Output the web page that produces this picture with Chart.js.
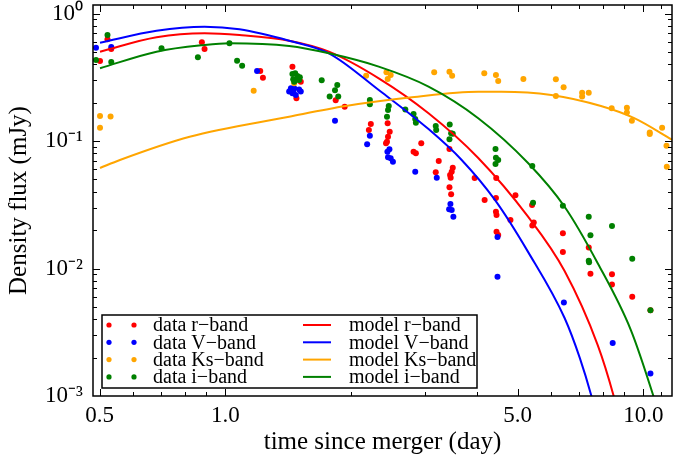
<!DOCTYPE html>
<html><head><meta charset="utf-8">
<script src="https://cdn.jsdelivr.net/npm/chart.js@4/dist/chart.umd.min.js"></script>
<style>html,body{margin:0;padding:0;background:#fff}#wrap{width:675px;height:463px}</style>
</head><body><div id="wrap"><canvas id="c" width="675" height="463"></canvas></div>
<script>
// ---------- data ----------
const rDataT = [0.501,0.522,0.533,0.878,0.891,1.211,1.229,1.446,1.514,1.478,1.835,1.928,2.443,2.227,2.203,2.471,2.448,2.434,2.421,2.940,2.818,2.854,3.434,3.237,3.184,3.497,3.477,3.446,3.457,3.434,3.466,3.945,4.443,4.168,4.436,4.436,4.450,4.450,4.492,4.939,4.805,5.413,5.464,5.420,6.414,6.414,7.396,7.466,8.406,8.406,9.399,10.39];
const rDataF = [0.424,0.627,0.527,0.594,0.527,0.354,0.314,0.383,0.292,0.216,0.209,0.186,0.138,0.136,0.122,0.118,0.108,0.0988,0.0959,0.0959,0.0824,0.0801,0.0866,0.0697,0.0568,0.0617,0.0574,0.0541,0.0516,0.0434,0.0382,0.0513,0.0513,0.0345,0.0357,0.0279,0.0263,0.0194,0.0183,0.0375,0.0240,0.0315,0.0229,0.0217,0.0189,0.0135,0.0146,0.0091,0.0090,0.0075,0.0060,0.0047];

const vDataT = [0.490,0.533,1.190,1.420,1.434,1.460,1.500,1.514,1.446,1.473,1.452,1.828,2.215,2.182,2.467,2.440,2.448,2.484,2.515,2.844,3.202,3.452,3.428,3.477,3.509,4.474,4.474,6.450,8.439,10.39];
const vDataF = [0.539,0.546,0.354,0.244,0.259,0.259,0.254,0.244,0.237,0.230,0.244,0.144,0.110,0.0942,0.0861,0.0824,0.0745,0.0732,0.0688,0.0574,0.0516,0.0321,0.0291,0.0288,0.0255,0.0177,0.0086,0.0054,0.0026,0.0015];

const ksDataT = [0.501,0.501,0.531,1.168,1.460,2.170,2.427,2.484,2.444,3.157,3.434,3.485,4.160,4.436,4.492,5.160,6.171,6.171,6.440,7.131,7.131,7.396,8.392,9.126,9.126,9.380,10.35,10.35,11.08,11.35,11.37];
const ksDataF = [0.157,0.127,0.156,0.248,0.284,0.325,0.346,0.329,0.306,0.346,0.350,0.325,0.340,0.329,0.296,0.306,0.305,0.225,0.264,0.239,0.223,0.239,0.181,0.182,0.167,0.144,0.1165,0.1135,0.127,0.0918,0.0629];

const iDataT = [0.490,0.522,0.533,0.703,0.859,1.022,1.066,1.096,1.446,1.468,1.486,1.506,1.452,1.473,1.500,1.460,1.699,1.851,1.828,1.775,1.861,2.215,2.215,2.458,2.448,2.434,2.693,2.818,2.844,2.854,3.184,3.192,3.439,3.466,3.497,3.434,4.426,4.436,4.492,4.426,5.420,5.442,6.414,7.396,7.466,7.396,7.41,8.406,9.399,10.39];
const iDataF = [0.432,0.678,0.417,0.533,0.453,0.584,0.426,0.390,0.335,0.340,0.324,0.316,0.305,0.301,0.301,0.292,0.299,0.275,0.250,0.223,0.223,0.210,0.194,0.188,0.175,0.155,0.177,0.163,0.149,0.139,0.131,0.122,0.135,0.115,0.114,0.103,0.0866,0.074,0.071,0.066,0.0637,0.0328,0.0311,0.0255,0.0182,0.0115,0.0112,0.0215,0.0119,0.0047];

const rModelT = [0.501,0.684,0.891,1.080,1.420,1.768,2.326,3.060,4.024,5.294,6.475,7.771,8.485,8.67];
const rModelF = [0.502,0.651,0.700,0.678,0.612,0.502,0.310,0.165,0.0736,0.0255,0.00956,0.00251,0.001,0.00075];

const vModelT = [0.501,0.684,0.891,1.080,1.420,1.768,2.326,3.060,3.673,4.411,5.294,6.475,7.04,7.532,7.7];
const vModelF = [0.590,0.733,0.788,0.752,0.612,0.487,0.251,0.124,0.071,0.0345,0.0135,0.00409,0.00199,0.00096,0.00072];

const ksModelT = [0.501,0.559,0.821,1.420,1.939,2.793,4.024,4.573,6.016,7.911,9.504,11.72];
const ksModelF = [0.0614,0.071,0.108,0.155,0.188,0.220,0.2435,0.2435,0.2295,0.188,0.151,0.102];

const iModelT = [0.501,0.684,0.891,1.022,1.420,1.768,2.326,3.060,4.024,5.294,6.475,7.771,9.328,10.56,10.8];
const iModelF = [0.372,0.502,0.566,0.584,0.556,0.487,0.383,0.267,0.151,0.0672,0.0305,0.011,0.00329,0.001,0.00078];

const xTickValues = [0.5, 1.0, 5.0, 10.0];
const xTickLabels = ['0.5', '1.0', '5.0', '10.0'];
const xMinorValues = [0.6,0.7,0.8,0.9,2,3,4,6,7,8,9,11];
const yTickValues = [0.001, 0.01, 0.1, 1];
const yTickLabels = ['10\u207B\u00B3', '10\u207B\u00B2', '10\u207B\u00B9', '10\u2070'];
const yMinorValues = [0.002,0.003,0.004,0.005,0.006,0.007,0.008,0.009,0.02,0.03,0.04,0.05,0.06,0.07,0.08,0.09,0.2,0.3,0.4,0.5,0.6,0.7,0.8,0.9];

const dataLabels = ['data r\u2212band', 'data V\u2212band', 'data Ks\u2212band', 'data i\u2212band'];
const modelLabels = ['model r\u2212band', 'model V\u2212band', 'model Ks\u2212band', 'model i\u2212band'];
const bandColors = ['#ff0000', '#0000ff', '#ffa500', '#008000'];

// ---------- build ----------
const pairs = (t, f) => t.map((v, i) => ({x: v, y: f[i]}));
const dataSets = [[rDataT, rDataF], [vDataT, vDataF], [ksDataT, ksDataF], [iDataT, iDataF]];
const modelSets = [[rModelT, rModelF], [vModelT, vModelF], [ksModelT, ksModelF], [iModelT, iModelF]];

const datasets = [];
dataSets.forEach((d, k) => datasets.push({
  label: dataLabels[k], data: pairs(d[0], d[1]), showLine: false,
  pointRadius: 3, pointHoverRadius: 3, pointBorderWidth: 0,
  backgroundColor: bandColors[k], borderColor: bandColors[k], order: 8 - k
}));
modelSets.forEach((d, k) => datasets.push({
  label: modelLabels[k], data: pairs(d[0], d[1]), showLine: true,
  pointRadius: 0, borderWidth: 2, borderColor: bandColors[k], backgroundColor: bandColors[k],
  fill: false, cubicInterpolationMode: 'monotone', order: 4 - k
}));

const FONT = "'Liberation Serif', 'Times New Roman', serif";
const near = (a, b) => Math.abs(a - b) / b < 1e-6;

const frameAndLegend = {
  id: 'frameAndLegend',
  afterDatasetsDraw(chart) {
    const {ctx, chartArea: a, scales: {x, y}} = chart;
    ctx.save();
    ctx.strokeStyle = '#000';
    ctx.lineWidth = 1;
    const seg = (x1, y1, x2, y2) => { ctx.beginPath(); ctx.moveTo(x1, y1); ctx.lineTo(x2, y2); ctx.stroke(); };
    const xt = (v, len) => {
      const p = Math.round(x.getPixelForValue(v)) + 0.5;
      if (p < a.left || p > a.right) return;
      seg(p, a.bottom, p, a.bottom - len); seg(p, a.top, p, a.top + len);
    };
    const yt = (v, len) => {
      const p = Math.round(y.getPixelForValue(v)) + 0.5;
      if (p < a.top || p > a.bottom) return;
      seg(a.left, p, a.left + len, p); seg(a.right, p, a.right - len, p);
    };
    xTickValues.forEach(v => xt(v, 7));
    xMinorValues.forEach(v => xt(v, 4));
    yTickValues.forEach(v => yt(v, 7));
    yMinorValues.forEach(v => yt(v, 4));
    ctx.lineWidth = 1.5;
    ctx.strokeRect(a.left, a.top, a.right - a.left, a.bottom - a.top);

    // legend (two columns)
    const bx = a.left + 9, bw = 375, bh = 73, by = a.bottom - 8 - bh;
    ctx.fillStyle = '#fff';
    ctx.fillRect(bx, by, bw, bh);
    ctx.lineWidth = 1.5;
    ctx.strokeRect(bx, by, bw, bh);
    ctx.font = "20px " + FONT;
    ctx.textBaseline = 'middle';
    ctx.textAlign = 'left';
    for (let k = 0; k < 4; k++) {
      const ry = by + 10 + k * 17.3;
      ctx.fillStyle = bandColors[k];
      [bx + 7, bx + 32].forEach(cx => { ctx.beginPath(); ctx.arc(cx, ry, 2.6, 0, Math.PI * 2); ctx.fill(); });
      ctx.fillStyle = '#000';
      ctx.fillText(dataLabels[k], bx + 51, ry + 1);
      ctx.strokeStyle = bandColors[k];
      ctx.lineWidth = 2;
      seg(bx + 201, ry, bx + 229, ry);
      ctx.fillText(modelLabels[k], bx + 247, ry + 1);
    }
    ctx.restore();
  }
};

new Chart(document.getElementById('c'), {
  type: 'scatter',
  data: {datasets},
  options: {
    responsive: false, animation: false, devicePixelRatio: 1,
    layout: {padding: {top: 5, right: 0, left: 0, bottom: 0}},
    plugins: {legend: {display: false}, tooltip: {enabled: false}},
    scales: {
      x: {
        type: 'logarithmic', min: 0.482, max: 11.7,
        grid: {display: false, drawTicks: false}, border: {display: false},
        afterBuildTicks: s => { s.ticks = xTickValues.map(v => ({value: v})); },
        afterFit: s => { s.height = 67; s.paddingLeft = 0; s.paddingRight = 0; },
        ticks: {
          autoSkip: false, maxRotation: 0, padding: 6, color: '#000',
          font: {family: FONT, size: 23},
          callback: v => { const i = xTickValues.findIndex(t => near(v, t)); return i >= 0 ? xTickLabels[i] : ''; }
        },
        title: {display: true, text: 'time since merger (day)', color: '#000',
          font: {family: FONT, size: 25}, padding: {top: 0, bottom: 6}}
      },
      y: {
        type: 'logarithmic', min: 0.001, max: 1.166,
        grid: {display: false, drawTicks: false}, border: {display: false},
        afterBuildTicks: s => { s.ticks = yTickValues.map(v => ({value: v})); },
        afterFit: s => { s.width = 93; s.paddingTop = 0; s.paddingBottom = 0; },
        ticks: {
          autoSkip: false, padding: 10, color: '#000',
          font: {family: FONT, size: 23},
          callback: v => { const i = yTickValues.findIndex(t => near(v, t)); return i >= 0 ? yTickLabels[i] : ''; }
        },
        title: {display: true, text: 'Density flux (mJy)', color: '#000',
          font: {family: FONT, size: 25}, padding: {top: 4, bottom: 0}}
      }
    }
  },
  plugins: [frameAndLegend]
});
</script></body></html>
